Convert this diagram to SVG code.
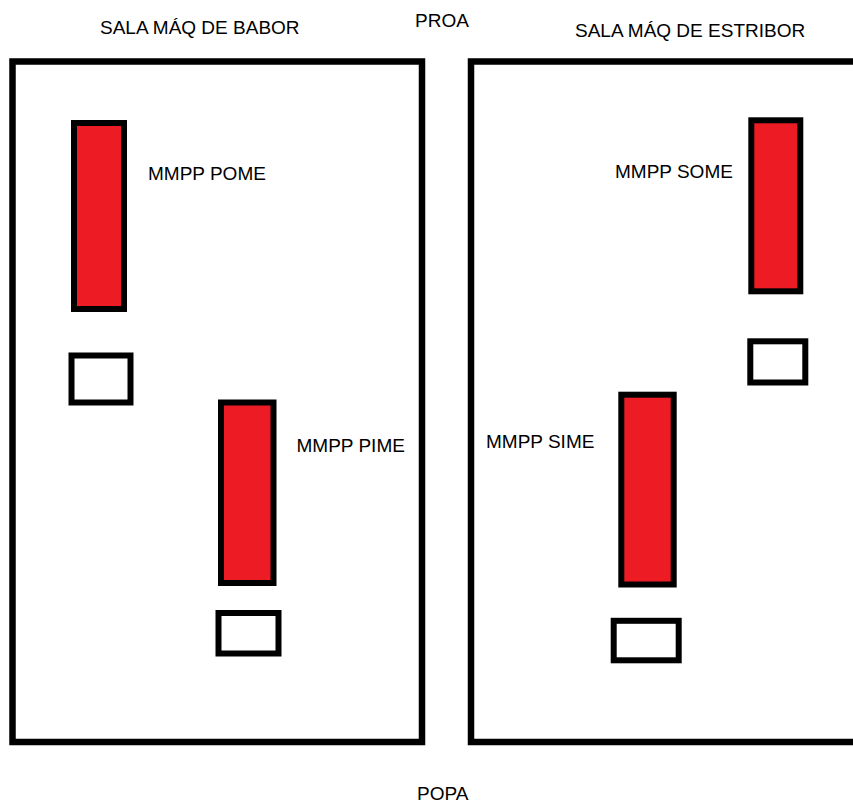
<svg xmlns="http://www.w3.org/2000/svg" width="853" height="805" viewBox="0 0 853 805">
<style>
  .room { fill: none; stroke: #000; stroke-width: 6.5; }
  .engine { fill: #ED1C24; stroke: #000; stroke-width: 6; }
  .aux { fill: #fff; stroke: #000; stroke-width: 6; }
  .lbl { font-family: "Liberation Sans", Arial, sans-serif; font-size: 19px; fill: #000; }
</style>
<rect width="853" height="805" fill="#fff"/>
<g id="sala-babor">
  <rect class="room" x="12.5" y="61.5" width="409.5" height="680.5"/>
  <text class="lbl" x="100" y="34">SALA MÁQ DE BABOR</text>
</g>
<g id="sala-estribor">
  <rect class="room" x="471" y="61.5" width="400" height="680.5"/>
  <text class="lbl" x="575" y="37">SALA MÁQ DE ESTRIBOR</text>
</g>
<g id="proa"><text class="lbl" x="415" y="27">PROA</text></g>
<g id="popa"><text class="lbl" x="417" y="800">POPA</text></g>
<g id="pome">
  <rect class="engine" x="74" y="123" width="50" height="186"/>
  <text class="lbl" x="148" y="180">MMPP POME</text>
</g>
<g id="aux-pome"><rect class="aux" x="71.5" y="355.5" width="59" height="47"/></g>
<g id="pime">
  <rect class="engine" x="221" y="402.5" width="52.5" height="180.5"/>
  <text class="lbl" x="296.5" y="451.5">MMPP PIME</text>
</g>
<g id="aux-pime"><rect class="aux" x="218.5" y="613" width="60" height="40.5"/></g>
<g id="some">
  <rect class="engine" x="751.3" y="120.3" width="49" height="171"/>
  <text class="lbl" x="615" y="177.5">MMPP SOME</text>
</g>
<g id="aux-some"><rect class="aux" x="750.3" y="341.3" width="55" height="41.2"/></g>
<g id="sime">
  <rect class="engine" x="621.3" y="394.7" width="52.4" height="189.8"/>
  <text class="lbl" x="486" y="448.3">MMPP SIME</text>
</g>
<g id="aux-sime"><rect class="aux" x="613.7" y="620.8" width="65" height="39.5"/></g>
<g id="connectors"></g>
</svg>
